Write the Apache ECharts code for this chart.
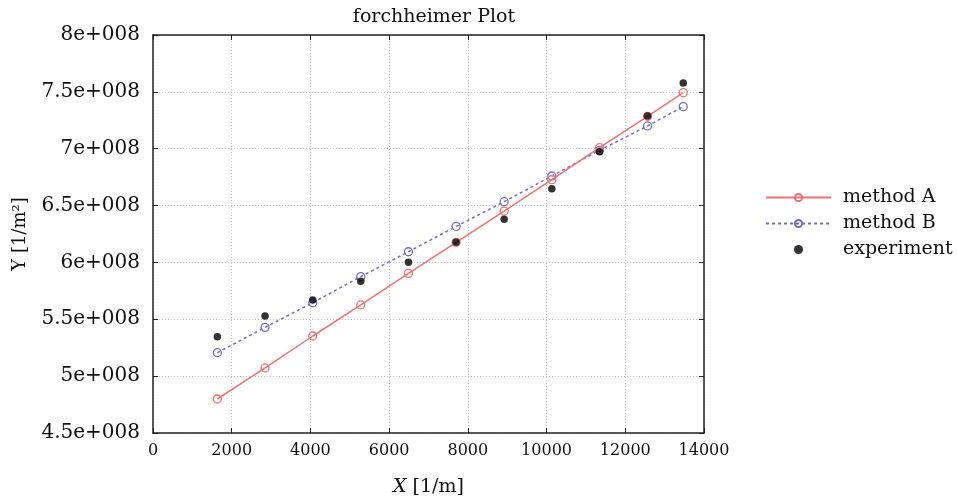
<!DOCTYPE html>
<html>
<head>
<meta charset="utf-8">
<script src="https://cdn.jsdelivr.net/npm/echarts@6/dist/echarts.min.js"></script>
<style>
  html, body { margin: 0; padding: 0; background: #fff; }
  #chart { width: 957px; height: 498px; }
</style>
</head>
<body>
<div id="chart"></div>
<script>
// values
const xValues = [1635, 2847, 4059, 5279, 6491, 7702, 8922, 10134, 11345, 12566, 13473]
const methodA = [4.799e8, 5.072e8, 5.353e8, 5.626e8, 5.904e8, 6.177e8, 6.452e8, 6.728e8, 7.009e8, 7.285e8, 7.493e8]
const methodB = [5.206e8, 5.429e8, 5.646e8, 5.875e8, 6.094e8, 6.317e8, 6.534e8, 6.760e8, 6.986e8, 7.200e8, 7.370e8]
const experiment = [5.347e8, 5.529e8, 5.670e8, 5.834e8, 6.001e8, 6.177e8, 6.379e8, 6.649e8, 6.974e8, 7.288e8, 7.578e8]
const yTickLabels = ['4.5e+008', '5e+008', '5.5e+008', '6e+008', '6.5e+008', '7e+008', '7.5e+008', '8e+008']
const xTickLabels = ['0', '2000', '4000', '6000', '8000', '10000', '12000', '14000']

const font = 'DejaVu Serif'
const pairs = arr => xValues.map((x, i) => [x, arr[i]])

const chart = echarts.init(document.getElementById('chart'))

const gridLine = { show: true, lineStyle: { color: '#c4c4c4', type: [1, 2], width: 1 } }
const tickIn = { inside: true, length: 5, lineStyle: { color: '#222' } }
const frame = { show: true, onZero: false, lineStyle: { color: '#222', width: 1.5 } }

const option = {
  animation: false,
  title: {
    text: 'forchheimer Plot',
    left: 429,
    textAlign: 'center',
    top: 3,
    textStyle: { fontFamily: font, fontWeight: 'normal', fontSize: 19, color: '#111' }
  },
  grid: { left: 153, right: 253, top: 35, bottom: 65, outerBoundsMode: 'none' },
  legend: {
    orient: 'vertical',
    left: 760,
    top: 183,
    itemWidth: 65,
    itemHeight: 9,
    itemGap: 7,
    textStyle: { fontFamily: font, fontSize: 19, color: '#111', padding: [0, 0, 0, 7] },
    data: [
      { name: 'method A' },
      { name: 'method B' },
      { name: 'experiment', itemStyle: { color: '#000' } }
    ]
  },
  xAxis: [
    {
      type: 'value', min: 0, max: 14000, interval: 2000,
      name: '{i|X} [1/m]', nameLocation: 'middle', nameGap: 45,
      nameTextStyle: {
        fontFamily: font, fontSize: 19, color: '#111',
        rich: { i: { fontFamily: font, fontSize: 19, fontStyle: 'italic', color: '#111' } }
      },
      axisLine: frame, axisTick: tickIn, splitLine: gridLine,
      axisLabel: {
        margin: 10, fontFamily: font, fontSize: 16, color: '#111',
        formatter: (v) => xTickLabels[Math.round(v / 2000)]
      }
    },
    {
      type: 'value', min: 0, max: 14000, interval: 2000, position: 'top',
      axisLine: frame, axisTick: tickIn, axisLabel: { show: false }, splitLine: { show: false }
    }
  ],
  yAxis: [
    {
      type: 'value', min: 4.5e8, max: 8e8, interval: 0.5e8,
      name: 'Y [1/m²]', nameLocation: 'middle', nameGap: 124,
      nameTextStyle: { fontFamily: font, fontSize: 18, color: '#111' },
      axisLine: frame, axisTick: tickIn, splitLine: gridLine,
      axisLabel: {
        margin: 13, fontFamily: font, fontSize: 20, color: '#111',
        formatter: (v) => yTickLabels[Math.round((v - 4.5e8) / 0.5e8)]
      }
    },
    {
      type: 'value', min: 4.5e8, max: 8e8, interval: 0.5e8, position: 'right',
      axisLine: frame, axisTick: tickIn, axisLabel: { show: false }, splitLine: { show: false }
    }
  ],
  series: [
    {
      name: 'method A', type: 'line', data: pairs(methodA),
      symbol: 'circle', symbolSize: 8,
      lineStyle: { color: '#f27070', width: 1.5 },
      itemStyle: { color: 'rgba(255,255,255,0)', borderColor: '#f27070', borderWidth: 1.3 },
      z: 3
    },
    {
      name: 'method B', type: 'line', data: pairs(methodB),
      symbol: 'circle', symbolSize: 8,
      lineStyle: { color: '#6e6ec6', width: 1.5, type: [3, 3] },
      itemStyle: { color: 'rgba(255,255,255,0)', borderColor: '#6e6ec6', borderWidth: 1.3 },
      z: 2
    },
    {
      name: 'experiment', type: 'scatter', data: pairs(experiment),
      symbol: 'circle', symbolSize: 7.5,
      itemStyle: { color: '#000' },
      z: 4
    }
  ]
}

chart.setOption(option)
</script>
</body>
</html>
